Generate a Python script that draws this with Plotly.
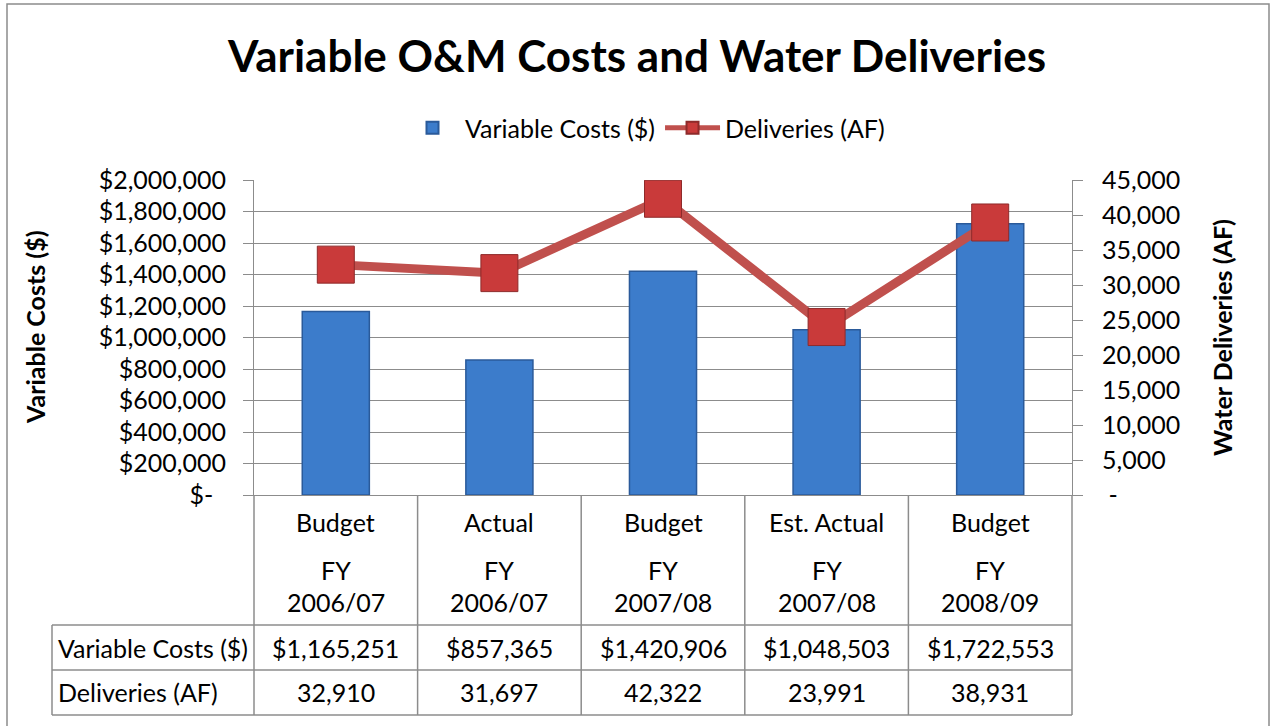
import plotly.graph_objects as go

# ---- data ----
categories = ["Budget FY 2006/07", "Actual FY 2006/07", "Budget FY 2007/08",
              "Est. Actual FY 2007/08", "Budget FY 2008/09"]
cat_type = ["Budget", "Actual", "Budget", "Est. Actual", "Budget"]
cat_year = ["2006/07", "2006/07", "2007/08", "2007/08", "2008/09"]
variable_costs = [1165251, 857365, 1420906, 1048503, 1722553]
deliveries = [32910, 31697, 42322, 23991, 38931]
left_ticks = [0, 200000, 400000, 600000, 800000, 1000000, 1200000, 1400000,
              1600000, 1800000, 2000000]
right_ticks = [0, 5000, 10000, 15000, 20000, 25000, 30000, 35000, 40000, 45000]
row_labels = ["Variable Costs ($)", "Deliveries (AF)"]

W, H = 1274, 726
FONT = "Lato"
def px(x): return x / W
def py(y): return 1 - y / H

PL, PR, PT, PB = 254, 1072, 180, 495  # plot area (pixels)
FS = 25

left_text = ["$-\u00a0\u00a0" if v == 0 else "${:,}".format(v) for v in left_ticks]
right_text = ["\u00a0-" if v == 0 else "{:,}".format(v) for v in right_ticks]

fig = go.Figure()
fig.add_trace(go.Bar(
    x=categories, y=variable_costs, name="Variable Costs ($)",
    width=0.41, marker=dict(color="#3C7CCB", line=dict(color="#2A5A9A", width=1.5)),
    yaxis="y",
))
fig.add_trace(go.Scatter(
    x=categories, y=deliveries, name="Deliveries (AF)", mode="lines+markers",
    line=dict(color="#C0504D", width=9),
    marker=dict(symbol="square", size=37, color="#C93A3A",
                line=dict(color="#8E2A2A", width=1)),
    yaxis="y2",
))

grid = "#8C8C8C"
fig.update_layout(
    width=W, height=H, margin=dict(l=0, r=0, t=0, b=0, autoexpand=False),
    paper_bgcolor="white", plot_bgcolor="white",
    font=dict(family=FONT, color="black", size=FS),
    title=dict(text="<b>Variable O&M Costs and Water Deliveries</b>",
               x=0.5, xanchor="center", y=py(57), yanchor="middle",
               font=dict(size=44, family=FONT, color="black")),
    showlegend=True,
    legend=dict(orientation="h", x=px(645), xanchor="center", y=py(128), yanchor="middle",
                font=dict(size=FS), itemsizing="constant", itemwidth=55,
                traceorder="normal", bgcolor="rgba(0,0,0,0)"),
    xaxis=dict(domain=[px(PL), px(PR)], showticklabels=False, showgrid=False,
               showline=True, linecolor=grid, linewidth=1, ticks="",
               range=[-0.5, 4.5], fixedrange=True, automargin=False),
    yaxis=dict(domain=[py(PB), py(PT)], range=[0, 2000000],
               tickvals=left_ticks, ticktext=left_text, tickfont=dict(size=FS),
               showgrid=True, gridcolor=grid, gridwidth=1,
               showline=True, linecolor=grid, linewidth=1,
               ticks="outside", ticklen=10, tickcolor=grid, ticklabelstandoff=12,
               zeroline=False, automargin=False),
    yaxis2=dict(overlaying="y", side="right", anchor="x", range=[0, 45000],
                tickvals=right_ticks, ticktext=right_text, tickfont=dict(size=FS),
                showgrid=False, showline=True, linecolor=grid, linewidth=1,
                ticks="outside", ticklen=10, tickcolor=grid, ticklabelstandoff=14,
                zeroline=False, automargin=False),
    bargap=0.59,
)

shapes = []
line_style = dict(color="#8C8C8C", width=1.5)
# outer chart border
shapes.append(dict(type="rect", xref="paper", yref="paper",
                   x0=px(7), x1=px(1269), y0=py(740), y1=py(4),
                   line=dict(color="#8C8C8C", width=1.5), fillcolor="rgba(0,0,0,0)", layer="below"))
# data table lines
bounds = [PL + i * (PR - PL) / 5 for i in range(6)]
for b in bounds:
    shapes.append(dict(type="line", xref="paper", yref="paper",
                       x0=px(b), x1=px(b), y0=py(PB), y1=py(715), line=line_style))
shapes.append(dict(type="line", xref="paper", yref="paper",
                   x0=px(52), x1=px(52), y0=py(625), y1=py(715), line=line_style))
for yy in [625, 670, 715]:
    shapes.append(dict(type="line", xref="paper", yref="paper",
                       x0=px(52), x1=px(PR), y0=py(yy), y1=py(yy), line=line_style))
fig.update_layout(shapes=shapes)

ann = []
for i, c in enumerate(categories):
    for yy, txt in [(522, cat_type[i]), (570, "FY"), (602, cat_year[i]),
                    (648, "${:,}".format(variable_costs[i])), (692, "{:,}".format(deliveries[i]))]:
        ann.append(dict(x=c, xref="x", y=py(yy), yref="paper", text=txt,
                        showarrow=False, font=dict(size=FS), xanchor="center", yanchor="middle"))
ann.append(dict(x=px(56), xref="paper", y=py(648), yref="paper", text=row_labels[0],
                showarrow=False, font=dict(size=FS), xanchor="left", yanchor="middle"))
ann.append(dict(x=px(56), xref="paper", y=py(692), yref="paper", text=row_labels[1],
                showarrow=False, font=dict(size=FS), xanchor="left", yanchor="middle"))
# axis titles
ann.append(dict(x=px(35), xref="paper", y=py(327), yref="paper", text="<b>Variable Costs ($)</b>",
                textangle=-90, showarrow=False, font=dict(size=25), xanchor="center", yanchor="middle"))
ann.append(dict(x=px(1222), xref="paper", y=py(338), yref="paper", text="<b>Water Deliveries (AF)</b>",
                textangle=-90, showarrow=False, font=dict(size=25), xanchor="center", yanchor="middle"))
fig.update_layout(annotations=ann)

fig.write_html("out.html", config={"displayModeBar": False},
               post_script="document.body.style.margin='0';")
